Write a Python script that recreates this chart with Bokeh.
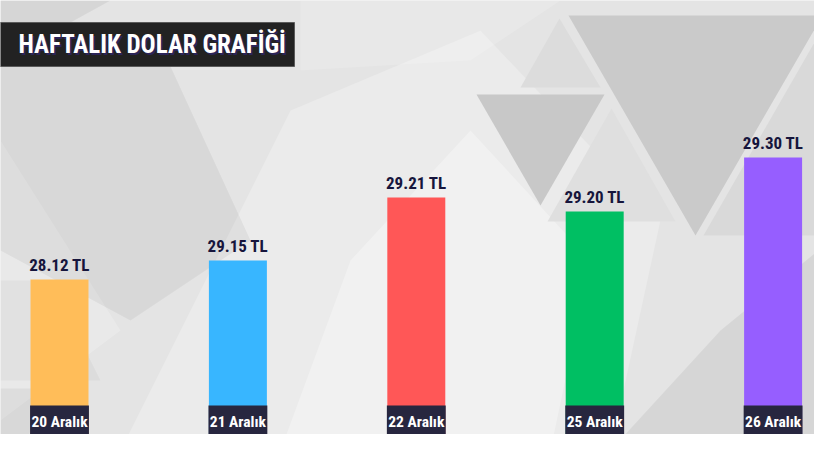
from bokeh.plotting import figure
from bokeh.models import Range1d, ColumnDataSource
from bokeh.core.properties import value
from bokeh.embed import file_html
from bokeh.resources import INLINE

# ---- data ----
dates = ["20 Aralık", "21 Aralık", "22 Aralık", "25 Aralık", "26 Aralık"]
rates = [28.12, 29.15, 29.21, 29.20, 29.30]
rate_labels = ["28.12 TL", "29.15 TL", "29.21 TL", "29.20 TL", "29.30 TL"]
bar_levels = [171, 190, 253, 239, 293]   # drawn bar heights as shown in the graphic
bar_colors = ["#FFBD59", "#38B6FF", "#FF5757", "#00BF63", "#965EFF"]
title_text = "HAFTALIK DOLAR GRAFİĞİ"

FONT = "Roboto Condensed"
W, H = 814, 434
STEP = 178.4
X0 = -59 / STEP

def X(rx):
    return X0 + rx / STEP

def Y(ry):
    return 450 - ry

p = figure(width=W, height=H, output_backend="svg", toolbar_location=None,
           x_range=Range1d(X0, X0 + W / STEP), y_range=Range1d(450 - H, 450),
           min_border=0, background_fill_color="#e4e4e4", border_fill_color="#e4e4e4",
           outline_line_color=None)
p.axis.visible = False
p.grid.visible = False

# ---- decorative background (soft gradient-like bands and triangles) ----
deco = [
    ("#ffffff", 0.25, [(120, 450), (290, 110), (480, 30), (660, 220), (610, 450)]),
    ("#ffffff", 0.30, [(280, 450), (350, 260), (470, 130), (590, 260), (550, 450)]),
    ("#ffffff", 0.20, [(0, 140), (120, 330), (0, 420)]),
    ("#000000", 0.05, [(0, 66), (170, 66), (250, 240), (130, 320), (0, 250)]),
    ("#000000", 0.06, [(0, 0), (110, 0), (70, 22), (0, 22)]),
    ("#ffffff", 0.15, [(300, 0), (560, 0), (470, 60), (300, 70)]),
    ("#000000", 0.06, [(830, 240), (830, 450), (610, 450), (720, 330)]),
    ("#000000", 0.03, [(0, 280), (50, 280), (100, 380), (0, 380)]),
    ("#000000", 0.05, [(0, 388), (40, 388), (25, 450), (0, 450)]),
    # triangles, top right
    ("#cacaca", 1.0, [(568, 15), (822, 15), (695, 235)]),
    ("#dcdcdc", 1.0, [(520, 87), (600, 87), (559, 18)]),
    ("#c8c8c8", 1.0, [(476, 94), (604, 94), (540, 205)]),
    ("#dfdfdf", 1.0, [(611, 108), (547, 221), (675, 221)]),
    ("#d9d9d9", 1.0, [(822, 28), (703, 235), (830, 235), (830, 15)]),
]
xs = [[X(pt[0]) for pt in pts] for _, _, pts in deco]
ys = [[Y(pt[1]) for pt in pts] for _, _, pts in deco]
p.patches(xs, ys, fill_color=[c for c, _, _ in deco], fill_alpha=[a for _, a, _ in deco],
          line_color=None)

# ---- bars ----
idx = list(range(len(dates)))
src = ColumnDataSource(dict(x=idx, level=bar_levels, color=bar_colors,
                            date=dates, label=rate_labels, rate=rates))
p.vbar(x="x", top="level", bottom=0, width=0.325, fill_color="color", line_color=None, source=src)

# value labels above bars
p.text(x="x", y="level", text="label", source=src, text_font=value(FONT),
       text_font_style="bold", text_font_size="17px", text_color="#16153c",
       text_align="center", text_baseline="bottom", y_offset=-5)

# dark date boxes at the bottom
p.vbar(x="x", top=45, bottom=0, width=0.33, fill_color="#27263f", line_color=None, source=src)
p.text(x="x", y=29, text="date", source=src, text_font=value(FONT),
       text_font_style="bold", text_font_size="15.5px", text_color="#ffffff",
       text_align="center", text_baseline="middle")

# ---- title box ----
p.quad(left=[X(-2)], right=[X(294)], top=[Y(22)], bottom=[Y(66)],
       fill_color="#222222", line_color="#5a5a5a", line_width=1)
p.text(x=[X(18)], y=[Y(44)], text=[title_text], text_font=value(FONT),
       text_font_style="bold", text_font_size="25px", text_color="#2b2458",
       text_align="left", text_baseline="middle", x_offset=2, y_offset=2)
p.text(x=[X(18)], y=[Y(44)], text=[title_text], text_font=value(FONT),
       text_font_style="bold", text_font_size="25px", text_color="#ffffff",
       text_align="left", text_baseline="middle")

open("out.html", "w").write(file_html(p, INLINE))
